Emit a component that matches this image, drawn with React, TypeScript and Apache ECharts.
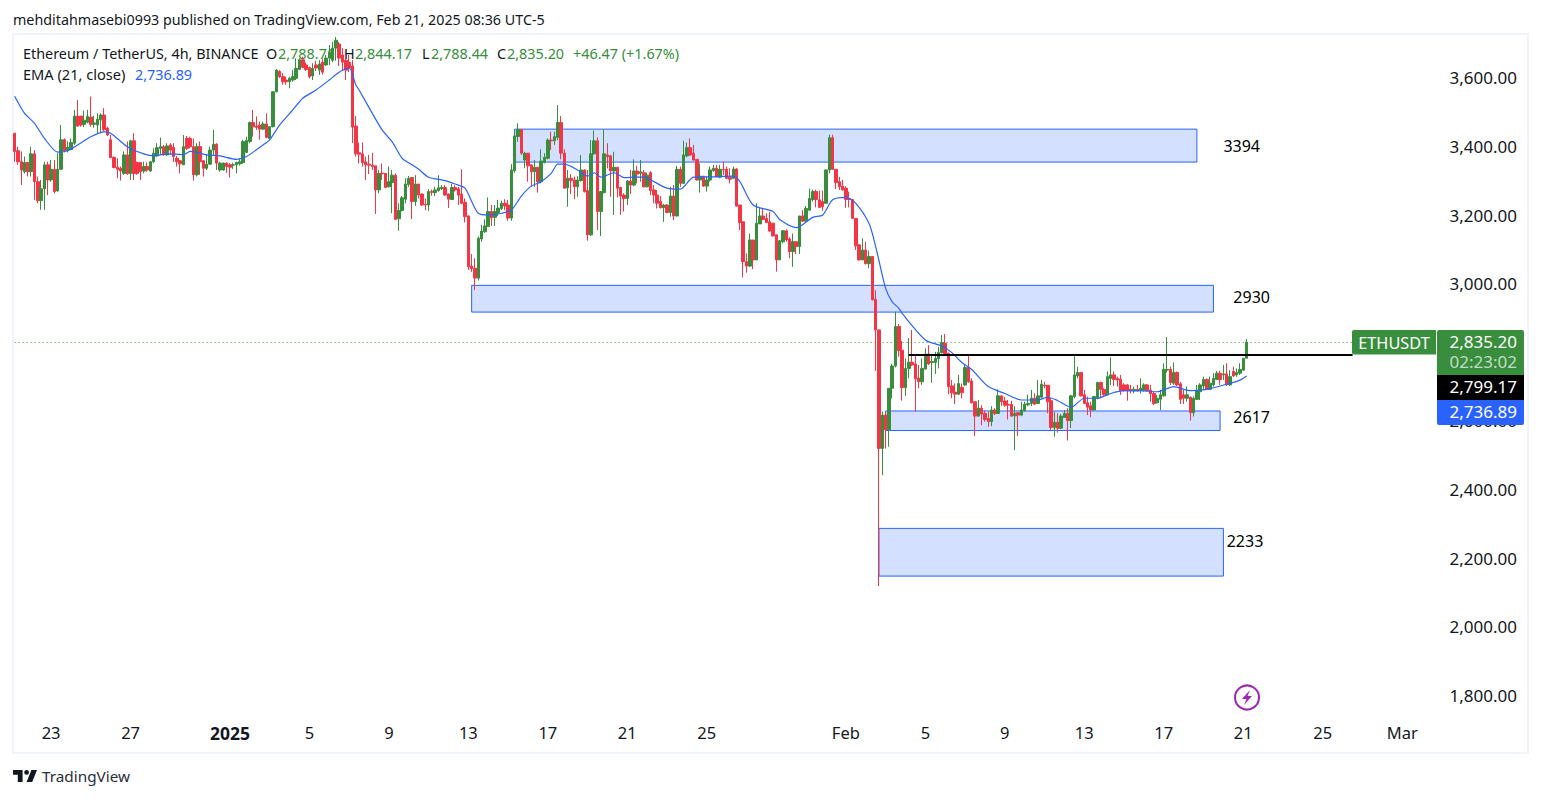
import React, { useEffect, useRef } from "react";
import * as echarts from "echarts";

type C = [number, number, number, number];

// Each candle: open, close, low, high
const decemberCandles: C[] = [
[3444,3391,3361,3444],[3393,3361,3352,3405],[3361,3337,3293,3391],[3332,3359,3327,3376],[3359,3332,3318,3361],[3332,3384,3318,3405],[3384,3303,3250,3395],[3303,3248,3240,3318],[3248,3282,3221,3308],[3282,3352,3221,3361],
[3352,3308,3264,3361],[3308,3339,3303,3366],[3339,3274,3269,3366],[3276,3339,3274,3386],[3339,3425,3337,3468],[3425,3393,3388,3429],[3393,3403,3388,3420],[3397,3417,3395,3429],[3415,3494,3410,3512],[3494,3465,3463,3541],
[3494,3468,3463,3494],[3470,3482,3462,3510],[3476,3493,3473,3512],[3491,3470,3463,3551],[3470,3474,3460,3495],[3468,3485,3444,3502],[3483,3497,3444,3502],[3497,3454,3449,3517],[3459,3439,3436,3463],[3425,3373,3371,3439],
[3374,3344,3342,3376],[3345,3339,3313,3371],[3342,3334,3306,3347],[3327,3381,3323,3391],[3381,3326,3323,3420],[3327,3422,3308,3425],[3422,3327,3308,3444],[3359,3327,3323,3361],[3359,3332,3308,3359],[3334,3347,3327,3361],
[3347,3337,3332,3359],[3334,3361,3332,3363],[3361,3386,3357,3400],[3378,3402,3376,3415],[3400,3405,3381,3431],[3405,3381,3378,3410],[3381,3407,3378,3415],[3410,3395,3381,3415],[3403,3376,3361,3415],[3371,3361,3347,3378],
[3364,3355,3327,3366],[3352,3405,3352,3439],[3429,3400,3395,3436],[3429,3405,3400,3434],[3405,3323,3306,3429],[3323,3405,3318,3415],[3405,3361,3323,3420],[3364,3342,3318,3366],[3342,3354,3337,3381],[3354,3395,3352,3405],
[3395,3412,3381,3454],[3412,3357,3337,3415],[3337,3357,3332,3361],[3337,3357,3335,3359],[3357,3347,3329,3359],
];
const januaryCandlesA: C[] = [
[3352,3345,3315,3357],[3351,3352,3340,3358],[3352,3359,3327,3361],[3355,3361,3350,3370],[3359,3420,3355,3425],[3388,3423,3386,3434],[3420,3475,3415,3478],[3475,3463,3434,3512],[3465,3461,3454,3493],[3468,3456,3425,3478],
[3456,3471,3454,3478],[3471,3432,3429,3502],[3429,3463,3425,3465],[3463,3565,3461,3565],[3565,3628,3563,3630],[3624,3609,3605,3628],[3609,3594,3585,3619],[3599,3594,3585,3609],[3594,3604,3575,3609],[3599,3609,3594,3628],
[3604,3633,3599,3662],[3630,3658,3628,3662],[3658,3636,3633,3667],[3643,3630,3625,3650],[3635,3609,3604,3638],[3611,3633,3599,3648],[3643,3634,3625,3655],[3628,3646,3614,3657],[3651,3622,3615,3660],[3643,3663,3640,3672],
[3663,3680,3643,3701],[3657,3692,3651,3710],[3692,3715,3655,3724],[3704,3663,3640,3710],[3672,3651,3628,3692],[3657,3628,3599,3686],[3651,3634,3622,3672],[3640,3462,3415,3657],[3465,3384,3376,3494],[3387,3383,3356,3417],
[3384,3358,3347,3417],[3361,3352,3308,3376],[3354,3351,3325,3381],[3351,3347,3337,3387],[3349,3279,3209,3349],[3279,3327,3269,3337],[3328,3326,3308,3356],[3327,3286,3284,3327],[3288,3303,3286,3347],[3300,3322,3211,3337],
[3322,3193,3193,3327],[3195,3219,3160,3240],[3219,3256,3216,3261],[3252,3296,3240,3313],[3295,3313,3288,3319],[3315,3245,3194,3315],[3245,3296,3232,3322],[3296,3264,3254,3296],[3267,3235,3232,3269],[3237,3235,3220,3254],
[3235,3274,3218,3281],[3274,3272,3262,3280],[3271,3279,3261,3288],[3277,3285,3274,3322],[3283,3286,3279,3293],[3286,3264,3261,3293],[3267,3252,3226,3269],[3251,3286,3250,3296],[3286,3279,3274,3293],[3282,3264,3235,3288],
[3267,3240,3238,3339],[3243,3201,3184,3254],[3203,3055,3046,3205],[3057,3050,3040,3092],[3051,3022,2987,3080],[3022,3138,3015,3143],[3136,3159,3128,3177],[3157,3174,3154,3193],[3172,3216,3172,3257],[3216,3198,3174,3235],
];
const januaryCandlesB: C[] = [
[3199,3216,3174,3235],[3213,3226,3203,3250],[3225,3240,3220,3248],[3240,3232,3220,3252],[3235,3197,3189,3250],[3197,3337,3189,3354],[3335,3436,3329,3453],[3434,3455,3419,3473],[3455,3386,3381,3455],[3366,3386,3342,3390],
[3386,3349,3303,3386],[3352,3332,3288,3352],[3332,3345,3288,3366],[3345,3303,3271,3345],[3303,3363,3298,3397],[3359,3374,3356,3386],[3371,3424,3368,3429],[3424,3422,3395,3449],[3422,3434,3410,3449],[3432,3475,3424,3526],
[3475,3386,3368,3494],[3386,3284,3283,3397],[3285,3313,3230,3337],[3313,3306,3267,3325],[3308,3288,3252,3318],[3288,3308,3259,3319],[3306,3337,3303,3381],[3337,3274,3271,3339],[3277,3148,3131,3337],[3148,3384,3145,3424],
[3384,3422,3381,3452],[3422,3216,3162,3432],[3216,3274,3145,3276],[3271,3384,3269,3455],[3381,3376,3342,3415],[3378,3334,3259,3381],[3334,3345,3206,3390],[3345,3284,3257,3345],[3286,3261,3206,3288],[3264,3254,3216,3269],
[3254,3305,3235,3308],[3305,3293,3267,3337],[3293,3334,3290,3368],[3334,3325,3298,3349],[3327,3332,3303,3366],[3329,3288,3286,3337],[3288,3322,3286,3330],[3329,3277,3264,3334],[3279,3264,3240,3293],[3264,3240,3225,3279],
[3245,3227,3225,3261],[3227,3235,3186,3238],[3235,3213,3211,3238],[3213,3261,3201,3288],[3261,3203,3191,3293],[3203,3339,3201,3349],[3339,3298,3288,3347],[3298,3381,3296,3422],[3378,3402,3374,3417],[3402,3381,3378,3429],
[3386,3366,3364,3410],[3368,3308,3306,3368],[3308,3319,3271,3356],[3319,3290,3288,3319],[3290,3308,3274,3317],[3308,3337,3303,3347],[3335,3342,3332,3352],[3342,3317,3316,3352],[3316,3339,3313,3352],[3339,3337,3322,3361],
[3339,3313,3310,3347],[3316,3310,3298,3342],[3313,3340,3310,3347],[3340,3232,3230,3342],[3235,3184,3162,3235],[3186,3070,3024,3186],[3070,3057,3038,3094],[3057,3133,3055,3152],[3133,3075,3048,3133],[3075,3182,3075,3240],
[3180,3203,3180,3228],[3203,3193,3191,3225],[3196,3184,3182,3211],[3186,3159,3157,3215],[3182,3145,3143,3182],[3148,3075,3041,3148],[3075,3131,3075,3133],[3128,3160,3123,3162],[3160,3133,3128,3164],[3136,3099,3080,3141],
[3099,3128,3055,3152],[3128,3114,3092,3128],[3114,3203,3092,3203],[3203,3188,3186,3220],[3189,3225,3186,3232],[3220,3254,3218,3283],[3251,3274,3245,3280],[3274,3251,3228,3279],[3250,3228,3226,3277],[3245,3230,3218,3277],
[3240,3337,3238,3339],[3337,3431,3327,3440],[3431,3339,3337,3440],[3339,3300,3281,3339],[3303,3288,3279,3317],[3290,3279,3277,3308],
];
const februaryCandlesA: C[] = [
[3284,3251,3227,3290],[3254,3251,3228,3274],[3251,3196,3196,3251],[3196,3116,3104,3196],[3119,3075,3073,3119],[3075,3104,3075,3138],[3104,3064,3062,3128],[3064,3085,3051,3102],[3085,2959,2957,3085],[2960,2871,2752,2987],
[2871,2526,2125,2873],[2526,2623,2448,2633],[2623,2580,2526,2633],[2580,2701,2531,2701],[2701,2766,2672,2772],[2766,2881,2762,2924],[2881,2811,2793,2888],[2812,2703,2665,2839],[2703,2759,2679,2788],[2759,2777,2730,2847],
[2777,2769,2766,2871],[2772,2729,2633,2795],[2731,2720,2701,2769],[2720,2759,2711,2788],[2757,2801,2756,2817],[2801,2772,2769,2827],[2776,2779,2717,2798],[2776,2788,2743,2807],[2787,2805,2759,2822],[2805,2834,2803,2856],
[2832,2801,2798,2859],[2803,2706,2684,2805],[2708,2688,2672,2725],[2690,2684,2655,2715],[2684,2715,2681,2740],[2704,2688,2672,2715],[2711,2762,2708,2769],[2762,2720,2717,2798],[2722,2659,2657,2730],[2662,2620,2562,2662],
[2620,2643,2618,2667],[2643,2626,2594,2652],[2628,2610,2604,2636],[2613,2604,2589,2633],[2604,2638,2591,2649],[2638,2628,2623,2643],[2628,2679,2626,2698],[2679,2662,2649,2679],[2664,2652,2647,2676],[2654,2652,2610,2667],
[2654,2620,2618,2665],[2621,2628,2521,2649],[2630,2623,2562,2630],[2623,2638,2620,2662],[2636,2655,2633,2662],[2653,2657,2649,2683],[2657,2672,2649,2696],[2672,2655,2652,2686],[2657,2679,2655,2725],[2675,2713,2672,2725],
];
const februaryCandlesB: C[] = [
[2710,2708,2701,2720],[2710,2662,2628,2710],[2665,2587,2580,2672],[2587,2602,2560,2633],[2602,2585,2572,2628],[2585,2620,2582,2626],[2616,2628,2616,2638],[2628,2607,2549,2643],[2607,2679,2585,2682],[2677,2740,2672,2795],
[2737,2747,2730,2764],[2747,2679,2677,2747],[2682,2657,2655,2696],[2659,2646,2623,2677],[2650,2638,2617,2662],[2638,2677,2638,2677],[2672,2718,2669,2720],[2718,2698,2672,2720],[2698,2682,2679,2701],[2682,2735,2682,2750],
[2730,2740,2711,2791],[2740,2727,2708,2750],[2730,2725,2706,2735],[2727,2694,2682,2740],[2711,2694,2691,2716],[2711,2693,2665,2714],[2698,2693,2686,2711],[2693,2698,2686,2706],[2698,2693,2691,2711],[2694,2701,2686,2730],
[2696,2711,2691,2716],[2711,2694,2691,2714],[2696,2685,2662,2711],[2686,2657,2652,2691],[2659,2672,2657,2682],[2669,2682,2638,2696],[2679,2756,2677,2774],[2754,2756,2747,2850],[2756,2718,2711,2764],[2716,2747,2711,2777],
[2747,2711,2708,2750],[2714,2669,2655,2720],[2682,2672,2655,2696],[2672,2682,2662,2706],[2675,2630,2607,2677],[2630,2672,2619,2677],[2669,2694,2667,2711],[2691,2711,2667,2716],[2708,2727,2696,2735],[2727,2698,2696,2730],
[2698,2716,2696,2735],[2711,2730,2706,2745],[2727,2745,2725,2752],[2745,2727,2711,2752],[2740,2743,2725,2769],[2743,2711,2708,2774],[2711,2735,2708,2754],[2750,2737,2735,2764],[2740,2747,2735,2759],[2745,2756,2740,2774],
[2754,2788,2752,2790],[2788.71,2835.2,2788.44,2844.17],
];
const candles: C[] = [...decemberCandles, ...januaryCandlesA, ...januaryCandlesB, ...februaryCandlesA, ...februaryCandlesB];

// EMA(21): candle index, value
const emaPoints: [number, number][] = [
[0,3552],[3,3502],[6,3473],[9,3429],[13,3389],[16,3393],[19,3410],[23,3434],[27,3448],[29,3444],[34,3405],[39,3384],[42,3378],[46,3384],[51,3382],[53,3391],[58,3381],[62,3378],[67,3368],[70,3376],[75,3410],[77,3425],[80,3468],[84,3512],[87,3546],[91,3570],[95,3599],[98,3622],[101,3634],[103,3585],[104,3570],[108,3502],[111,3453],[114,3419],[117,3371],[119,3358],[122,3339],[125,3316],[130,3306],[133,3296],[136,3284],[138,3245],[140,3211],[143,3206],[147,3211],[150,3220],[153,3261],[156,3290],[159,3303],[162,3327],[164,3354],[166,3354],[170,3337],[173,3319],[175,3329],[177,3316],[181,3329],[184,3315],[188,3316],[190,3316],[193,3303],[197,3284],[201,3281],[205,3316],[210,3317],[217,3319],[219,3303],[223,3235],[229,3216],[231,3193],[236,3169],[241,3199],[244,3206],[247,3250],[251,3257],[254,3240],[258,3181],[260,3114],[263,2992],[265,2953],[267,2934],[268,2919],[275,2842],[280,2824],[283,2805],[286,2776],[289,2756],[294,2706],[299,2686],[304,2667],[309,2667],[312,2675],[315,2665],[319,2646],[323,2672],[327,2672],[331,2686],[335,2694],[340,2694],[345,2691],[350,2706],[355,2694],[360,2698],[366,2713],[370,2725],[372,2737],
];

const priceTicks = [1800, 2000, 2200, 2400, 2600, 3000, 3200, 3400, 3600];
const dateTickIndex = [11, 35, 65, 89, 113, 137, 161, 185, 209, 251, 275, 299, 323, 347, 371, 395, 419];
const dateTickText = ["23", "27", "2025", "5", "9", "13", "17", "21", "25", "Feb", "5", "9", "13", "17", "21", "25", "Mar"];

// Supply / demand zones: first candle, last candle, low, high
const zones: [number, number, number, number][] = [
  [151, 357, 3360, 3456],
  [138, 362, 2923, 3001],
  [263, 364, 2578, 2635],
  [261, 365, 2154, 2293],
];
// Zone captions: text, candle index, price
const zoneLabels: [string, number, number][] = [
  ["3394", 365, 3407],
  ["2930", 368, 2967],
  ["2617", 368, 2617],
  ["2233", 366, 2256],
];
const lastPrice = 2835.2;
const resistance = 2799.17;
const slotCount = 430;
const priceMin = 1749.4;
const priceMax = 3733.1;
const labelShift = 5.8; // the price labels sit 2px above their true level in the original

const FONT = "'Noto Sans', sans-serif";
const GREEN = "#388e3c";
const RED = "#f23645";
const BLUE = "#2962ff";
const INK = "#131722";

const txt = (text: string, x: number, y: number, fill: string, fontSize: number, align = "left", z = 1) => ({
  type: "text", x, y, z, silent: true,
  style: { text, fill, font: `normal ${fontSize}px ${FONT}`, textAlign: align, textVerticalAlign: "middle" },
});
const box = (x: number, y: number, w: number, h: number, fill: string, r: any = 2) => ({
  type: "rect", z: 100, silent: true, shape: { x, y, width: w, height: h, r }, style: { fill },
});

export default function App() {
  const ref = useRef<HTMLDivElement>(null);
  useEffect(() => {
    if (!ref.current) return;
    echarts.graphic.registerShape("tvlogo", echarts.graphic.extendPath("M14 6H2v6h6v9h6V6z M26 21h-7l6-15h7l-6 15z M19 12a3 3 0 1 0 0-6 3 3 0 0 0 0 6z", {}));
    const chart = echarts.init(ref.current, undefined, { renderer: "svg" });
    const tickMap = new Map(dateTickIndex.map((d, i) => [d, dateTickText[i]]));
    chart.setOption({
      animation: false,
      backgroundColor: "#ffffff",
      grid: { left: 13, right: 104, top: 34, bottom: 83, containLabel: false },
      xAxis: {
        type: "category",
        data: Array.from({ length: slotCount }, (_, i) => String(i)),
        boundaryGap: true,
        axisLine: { show: false },
        axisTick: { show: false },
        splitLine: { show: false },
        axisLabel: {
          interval: (i: number) => tickMap.has(i),
          formatter: (_v: string, i: number) => {
            const t = tickMap.get(i) || "";
            return t === "2025" ? `{b|${t}}` : t;
          },
          color: INK,
          fontFamily: FONT,
          fontSize: 16.5,
          margin: 9,
          rich: { b: { fontWeight: "bold", fontSize: 17.5, color: INK, fontFamily: FONT } },
        },
      },
      yAxis: [
        {
          type: "value",
          position: "right",
          min: priceMin,
          max: priceMax,
          axisLine: { show: false },
          axisTick: { show: false },
          splitLine: { show: false },
          axisLabel: { show: false },
        },
        {
          type: "value",
          position: "right",
          min: priceMin - labelShift,
          max: priceMax - labelShift,
          axisLine: { show: false },
          axisTick: { show: false },
          splitLine: { show: false },
          axisLabel: {
            customValues: priceTicks,
            formatter: (v: number) => v.toLocaleString("en-US", { minimumFractionDigits: 2, maximumFractionDigits: 2 }),
            color: INK,
            fontFamily: FONT,
            fontSize: 17,
            align: "right",
            margin: 80,
          },
        },
      ],
      series: [
        {
          type: "candlestick",
          data: candles,
          barWidth: 3,
          itemStyle: { color: GREEN, color0: RED, borderColor: GREEN, borderColor0: RED, borderWidth: 1 },
          markArea: {
            silent: true,
            itemStyle: { color: "rgba(41,98,255,0.2)", borderColor: BLUE, borderWidth: 1 },
            data: zones.map((z) => [{ xAxis: z[0], yAxis: z[3] }, { xAxis: z[1], yAxis: z[2] }]),
          },
          markLine: {
            silent: true,
            symbol: "none",
            label: { show: false },
            data: [
              [
                { coord: [0, lastPrice], lineStyle: { color: GREEN, type: [1, 3], width: 1 } },
                { coord: [slotCount - 1, lastPrice] },
              ],
              [
                { coord: [270, resistance], lineStyle: { color: "#000000", type: "solid", width: 2 } },
                { coord: [404, resistance] },
              ],
            ],
          },
          markPoint: {
            silent: true,
            symbol: "circle",
            symbolSize: 0,
            data: zoneLabels.map((l) => ({
              coord: [l[1], l[2]],
              value: l[0],
              label: { show: true, position: "right", distance: 0, formatter: l[0], color: "#000000", fontFamily: FONT, fontSize: 16 },
            })),
          },
        },
        {
          type: "line",
          data: emaPoints,
          showSymbol: false,
          smooth: 0.25,
          silent: true,
          lineStyle: { color: BLUE, width: 1.2 },
          z: 3,
        },
      ],
      graphic: {
        elements: [
          { type: "rect", z: 0, silent: true, shape: { x: 13, y: 34, width: 1515, height: 719 }, style: { fill: "none", stroke: "#f0f3fa", lineWidth: 2 } },
          txt("mehditahmasebi0993 published on TradingView.com, Feb 21, 2025 08:36 UTC-5", 13, 19, INK, 14.3),
          txt("Ethereum / TetherUS, 4h, BINANCE", 23, 53.5, INK, 14.4),
          txt("O", 266, 53.5, INK, 14.4),
          txt("2,788.71", 278, 53.5, GREEN, 14.4),
          txt("H", 344, 53.5, INK, 14.4),
          txt("2,844.17", 355, 53.5, GREEN, 14.4),
          txt("L", 422, 53.5, INK, 14.4),
          txt("2,788.44", 431, 53.5, GREEN, 14.4),
          txt("C", 497, 53.5, INK, 14.4),
          txt("2,835.20", 507, 53.5, GREEN, 14.4),
          txt("+46.47 (+1.67%)", 573, 53.5, GREEN, 14.4),
          txt("EMA (21, close)", 23, 74, INK, 14.6),
          txt("2,736.89", 135, 74, BLUE, 14.4),
          box(1352, 330, 84, 24.5, GREEN, [2, 0, 0, 2]),
          txt("ETHUSDT", 1394, 342.5, "#ffffff", 16.3, "center", 101),
          box(1437, 330, 87, 45, GREEN, [2, 2, 0, 0]),
          txt("2,835.20", 1517, 341, "#ffffff", 17, "right", 101),
          txt("02:23:02", 1517, 361, "rgba(255,255,255,0.7)", 17, "right", 101),
          box(1437, 375, 87, 25, "#000000", 0),
          txt("2,799.17", 1517, 386, "#ffffff", 17, "right", 101),
          box(1437, 400, 87, 25, BLUE, [0, 0, 2, 2]),
          txt("2,736.89", 1517, 411, "#ffffff", 17, "right", 101),
          { type: "circle", z: 5, silent: true, shape: { cx: 1247, cy: 697.5, r: 12 }, style: { fill: "none", stroke: "#9c27b0", lineWidth: 2 } },
          { type: "polygon", z: 5, silent: true, shape: { points: [[1250, 690], [1242, 699], [1246.5, 699], [1244, 705], [1252, 696], [1247.5, 696]] }, style: { fill: "#9c27b0" } },
          { type: "tvlogo", z: 5, silent: true, x: 11.4, y: 765.2, scaleX: 0.8, scaleY: 0.8, style: { fill: INK } },
          txt("TradingView", 42, 776, "#2a2e39", 15.3),
        ],
      },
    });
    return () => chart.dispose();
  }, []);
  return <div ref={ref} style={{ position: "absolute", left: 0, top: 0, width: 1541, height: 798 }} />;
}
